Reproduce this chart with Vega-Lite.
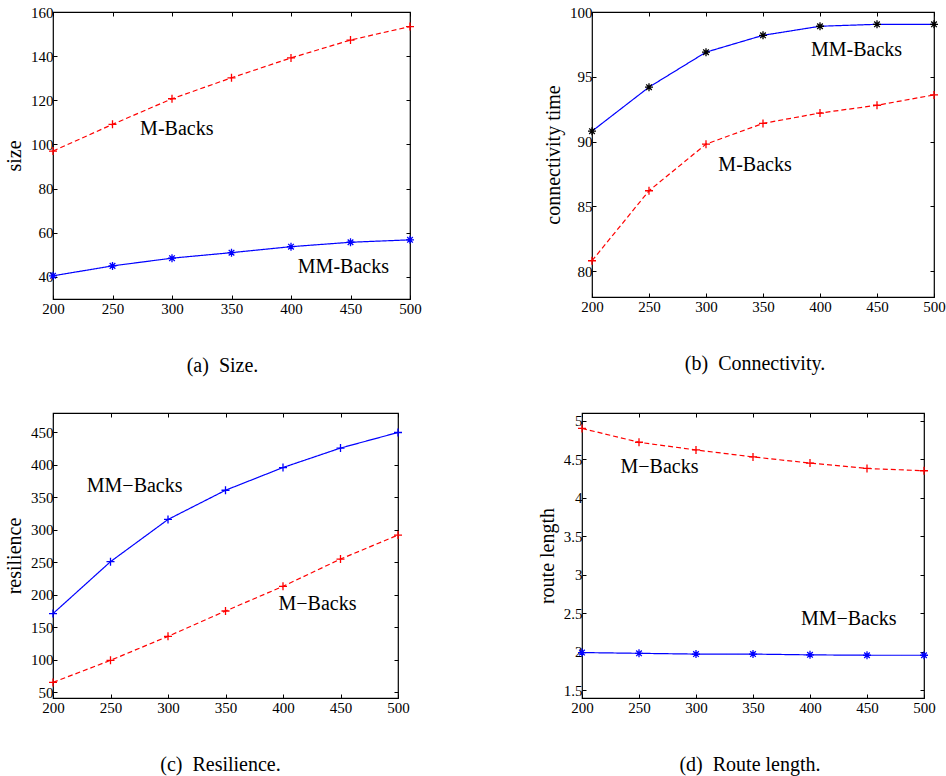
{
  "$schema": "https://vega.github.io/schema/vega-lite/v6.json",
  "background": "white",
  "padding": {"left": 3, "top": 4, "right": 3, "bottom": 3},
  "datasets": {
    "s": [
      {"panel": "a", "series": "M-Backs", "n": 200, "v": 97},
      {"panel": "a", "series": "M-Backs", "n": 250, "v": 109.1},
      {"panel": "a", "series": "M-Backs", "n": 300, "v": 120.7},
      {"panel": "a", "series": "M-Backs", "n": 350, "v": 130.2},
      {"panel": "a", "series": "M-Backs", "n": 400, "v": 139.2},
      {"panel": "a", "series": "M-Backs", "n": 450, "v": 147.3},
      {"panel": "a", "series": "M-Backs", "n": 500, "v": 153.4},
      {"panel": "a", "series": "MM-Backs", "n": 200, "v": 40.5},
      {"panel": "a", "series": "MM-Backs", "n": 250, "v": 45},
      {"panel": "a", "series": "MM-Backs", "n": 300, "v": 48.5},
      {"panel": "a", "series": "MM-Backs", "n": 350, "v": 51},
      {"panel": "a", "series": "MM-Backs", "n": 400, "v": 53.7},
      {"panel": "a", "series": "MM-Backs", "n": 450, "v": 55.7},
      {"panel": "a", "series": "MM-Backs", "n": 500, "v": 56.8},
      {"panel": "b", "series": "MM-Backs", "n": 200, "v": 90.8},
      {"panel": "b", "series": "MM-Backs", "n": 250, "v": 94.2},
      {"panel": "b", "series": "MM-Backs", "n": 300, "v": 96.9},
      {"panel": "b", "series": "MM-Backs", "n": 350, "v": 98.2},
      {"panel": "b", "series": "MM-Backs", "n": 400, "v": 98.9},
      {"panel": "b", "series": "MM-Backs", "n": 450, "v": 99.05},
      {"panel": "b", "series": "MM-Backs", "n": 500, "v": 99.05},
      {"panel": "b", "series": "M-Backs", "n": 200, "v": 80.8},
      {"panel": "b", "series": "M-Backs", "n": 250, "v": 86.2},
      {"panel": "b", "series": "M-Backs", "n": 300, "v": 89.8},
      {"panel": "b", "series": "M-Backs", "n": 350, "v": 91.4},
      {"panel": "b", "series": "M-Backs", "n": 400, "v": 92.2},
      {"panel": "b", "series": "M-Backs", "n": 450, "v": 92.8},
      {"panel": "b", "series": "M-Backs", "n": 500, "v": 93.6},
      {"panel": "c", "series": "MM-Backs", "n": 200, "v": 171},
      {"panel": "c", "series": "MM-Backs", "n": 250, "v": 251},
      {"panel": "c", "series": "MM-Backs", "n": 300, "v": 316},
      {"panel": "c", "series": "MM-Backs", "n": 350, "v": 361},
      {"panel": "c", "series": "MM-Backs", "n": 400, "v": 396},
      {"panel": "c", "series": "MM-Backs", "n": 450, "v": 426},
      {"panel": "c", "series": "MM-Backs", "n": 500, "v": 450},
      {"panel": "c", "series": "M-Backs", "n": 200, "v": 65},
      {"panel": "c", "series": "M-Backs", "n": 250, "v": 99},
      {"panel": "c", "series": "M-Backs", "n": 300, "v": 136},
      {"panel": "c", "series": "M-Backs", "n": 350, "v": 175},
      {"panel": "c", "series": "M-Backs", "n": 400, "v": 213},
      {"panel": "c", "series": "M-Backs", "n": 450, "v": 255},
      {"panel": "c", "series": "M-Backs", "n": 500, "v": 292},
      {"panel": "d", "series": "M-Backs", "n": 200, "v": 4.9},
      {"panel": "d", "series": "M-Backs", "n": 250, "v": 4.72},
      {"panel": "d", "series": "M-Backs", "n": 300, "v": 4.62},
      {"panel": "d", "series": "M-Backs", "n": 350, "v": 4.53},
      {"panel": "d", "series": "M-Backs", "n": 400, "v": 4.45},
      {"panel": "d", "series": "M-Backs", "n": 450, "v": 4.38},
      {"panel": "d", "series": "M-Backs", "n": 500, "v": 4.35},
      {"panel": "d", "series": "MM-Backs", "n": 200, "v": 1.99},
      {"panel": "d", "series": "MM-Backs", "n": 250, "v": 1.98},
      {"panel": "d", "series": "MM-Backs", "n": 300, "v": 1.97},
      {"panel": "d", "series": "MM-Backs", "n": 350, "v": 1.97},
      {"panel": "d", "series": "MM-Backs", "n": 400, "v": 1.96},
      {"panel": "d", "series": "MM-Backs", "n": 450, "v": 1.955},
      {"panel": "d", "series": "MM-Backs", "n": 500, "v": 1.955}
    ],
    "t": [
      {"panel": "a", "label": "M-Backs", "n": 304, "v": 107},
      {"panel": "a", "label": "MM-Backs", "n": 444, "v": 44.6},
      {"panel": "b", "label": "MM-Backs", "n": 432, "v": 97.1},
      {"panel": "b", "label": "M-Backs", "n": 343, "v": 88.2},
      {"panel": "c", "label": "MM−Backs", "n": 271, "v": 368},
      {"panel": "c", "label": "M−Backs", "n": 430, "v": 186.5},
      {"panel": "d", "label": "M−Backs", "n": 268, "v": 4.4},
      {"panel": "d", "label": "MM−Backs", "n": 434, "v": 2.42}
    ]
  },
  "spacing": 34,
  "vconcat": [
    {
      "bounds": "flush",
      "spacing": 182,
      "hconcat": [
        {
          "width": 357, "height": 287,
          "title": {"text": "(a)\u00a0 Size.", "dx": -9},
          "layer": [
            {
              "data": {"name": "s"}, "transform": [{"filter": "datum.panel == 'a'"}],
              "mark": {"type": "line", "strokeWidth": 1.2},
              "encoding": {
                "x": {"field": "n", "type": "quantitative", "scale": {"domain": [200, 500], "nice": false}, "axis": {"orient": "bottom", "values": [200, 250, 300, 350, 400, 450, 500], "format": "d", "title": null}},
                "y": {"field": "v", "type": "quantitative", "scale": {"domain": [30, 160], "nice": false, "zero": false}, "axis": {"orient": "left", "values": [40, 60, 80, 100, 120, 140, 160], "format": "d", "title": "size"}},
                "detail": {"field": "series"},
                "color": {"condition": {"test": "datum.series === 'M-Backs'", "value": "#ff0000"}, "value": "#0000ff"},
                "strokeDash": {"condition": {"test": "datum.series === 'M-Backs'", "value": [5, 3]}, "value": [1, 0]}
              }
            },
            {
              "data": {"name": "s"}, "transform": [{"filter": "datum.panel == 'a'"}],
              "mark": {"type": "point", "filled": false, "strokeWidth": 1.3, "size": 64, "opacity": 1},
              "encoding": {
                "x": {"field": "n", "type": "quantitative", "scale": {"domain": [200, 500], "nice": false}, "axis": {"orient": "top", "values": [200, 250, 300, 350, 400, 450, 500], "labels": false, "title": null}},
                "y": {"field": "v", "type": "quantitative", "scale": {"domain": [30, 160], "nice": false, "zero": false}, "axis": {"orient": "right", "values": [40, 60, 80, 100, 120, 140, 160], "labels": false, "title": null}},
                "color": {"condition": {"test": "datum.series === 'M-Backs'", "value": "#ff0000"}, "value": "#0000ff"},
                "shape": {"condition": {"test": "datum.series === 'M-Backs'", "value": "M-1,0H1M0,-1V1"}, "value": "M-1,0H1M0,-1V1M-0.7,-0.7L0.7,0.7M-0.7,0.7L0.7,-0.7"}
              }
            },
            {
              "data": {"name": "t"}, "transform": [{"filter": "datum.panel == 'a'"}],
              "mark": {"type": "text", "font": "Liberation Serif", "fontSize": 20, "color": "black"},
              "encoding": {
                "x": {"field": "n", "type": "quantitative", "axis": null},
                "y": {"field": "v", "type": "quantitative", "axis": null},
                "text": {"field": "label"}
              }
            }
          ],
          "resolve": {"axis": {"x": "independent", "y": "independent"}}
        },
        {
          "width": 342, "height": 285,
          "title": {"text": "(b)\u00a0 Connectivity.", "dx": -8},
          "layer": [
            {
              "data": {"name": "s"}, "transform": [{"filter": "datum.panel == 'b'"}],
              "mark": {"type": "line", "strokeWidth": 1.2},
              "encoding": {
                "x": {"field": "n", "type": "quantitative", "scale": {"domain": [200, 500], "nice": false}, "axis": {"orient": "bottom", "values": [200, 250, 300, 350, 400, 450, 500], "format": "d", "title": null}},
                "y": {"field": "v", "type": "quantitative", "scale": {"domain": [78, 100], "nice": false, "zero": false}, "axis": {"orient": "left", "values": [80, 85, 90, 95, 100], "format": "d", "title": "connectivity time"}},
                "detail": {"field": "series"},
                "color": {"condition": {"test": "datum.series === 'M-Backs'", "value": "#ff0000"}, "value": "#0000ff"},
                "strokeDash": {"condition": {"test": "datum.series === 'M-Backs'", "value": [5, 3]}, "value": [1, 0]}
              }
            },
            {
              "data": {"name": "s"}, "transform": [{"filter": "datum.panel == 'b'"}],
              "mark": {"type": "point", "filled": false, "strokeWidth": 1.3, "size": 64, "opacity": 1},
              "encoding": {
                "x": {"field": "n", "type": "quantitative", "scale": {"domain": [200, 500], "nice": false}, "axis": {"orient": "top", "values": [200, 250, 300, 350, 400, 450, 500], "labels": false, "title": null}},
                "y": {"field": "v", "type": "quantitative", "scale": {"domain": [78, 100], "nice": false, "zero": false}, "axis": {"orient": "right", "values": [80, 85, 90, 95, 100], "labels": false, "title": null}},
                "color": {"condition": {"test": "datum.series === 'M-Backs'", "value": "#ff0000"}, "value": "#000000"},
                "shape": {"condition": {"test": "datum.series === 'M-Backs'", "value": "M-1,0H1M0,-1V1"}, "value": "M-1,0H1M0,-1V1M-0.7,-0.7L0.7,0.7M-0.7,0.7L0.7,-0.7"}
              }
            },
            {
              "data": {"name": "t"}, "transform": [{"filter": "datum.panel == 'b'"}],
              "mark": {"type": "text", "font": "Liberation Serif", "fontSize": 20, "color": "black"},
              "encoding": {
                "x": {"field": "n", "type": "quantitative", "axis": null},
                "y": {"field": "v", "type": "quantitative", "axis": null},
                "text": {"field": "label"}
              }
            }
          ],
          "resolve": {"axis": {"x": "independent", "y": "independent"}}
        }
      ]
    },
    {
      "bounds": "flush",
      "spacing": 184,
      "hconcat": [
        {
          "width": 345, "height": 285,
          "title": {"text": "(c)\u00a0 Resilience.", "dx": -5},
          "layer": [
            {
              "data": {"name": "s"}, "transform": [{"filter": "datum.panel == 'c'"}],
              "mark": {"type": "line", "strokeWidth": 1.2},
              "encoding": {
                "x": {"field": "n", "type": "quantitative", "scale": {"domain": [200, 500], "nice": false}, "axis": {"orient": "bottom", "values": [200, 250, 300, 350, 400, 450, 500], "format": "d", "title": null}},
                "y": {"field": "v", "type": "quantitative", "scale": {"domain": [41, 480], "nice": false, "zero": false}, "axis": {"orient": "left", "values": [50, 100, 150, 200, 250, 300, 350, 400, 450], "format": "d", "title": "resilience"}},
                "detail": {"field": "series"},
                "color": {"condition": {"test": "datum.series === 'M-Backs'", "value": "#ff0000"}, "value": "#0000ff"},
                "strokeDash": {"condition": {"test": "datum.series === 'M-Backs'", "value": [5, 3]}, "value": [1, 0]}
              }
            },
            {
              "data": {"name": "s"}, "transform": [{"filter": "datum.panel == 'c'"}],
              "mark": {"type": "point", "filled": false, "strokeWidth": 1.3, "size": 64, "opacity": 1, "shape": "M-1,0H1M0,-1V1"},
              "encoding": {
                "x": {"field": "n", "type": "quantitative", "scale": {"domain": [200, 500], "nice": false}, "axis": {"orient": "top", "values": [200, 250, 300, 350, 400, 450, 500], "labels": false, "title": null}},
                "y": {"field": "v", "type": "quantitative", "scale": {"domain": [41, 480], "nice": false, "zero": false}, "axis": {"orient": "right", "values": [50, 100, 150, 200, 250, 300, 350, 400, 450], "labels": false, "title": null}},
                "color": {"condition": {"test": "datum.series === 'M-Backs'", "value": "#ff0000"}, "value": "#0000ff"}
              }
            },
            {
              "data": {"name": "t"}, "transform": [{"filter": "datum.panel == 'c'"}],
              "mark": {"type": "text", "font": "Liberation Serif", "fontSize": 20, "color": "black"},
              "encoding": {
                "x": {"field": "n", "type": "quantitative", "axis": null},
                "y": {"field": "v", "type": "quantitative", "axis": null},
                "text": {"field": "label"}
              }
            }
          ],
          "resolve": {"axis": {"x": "independent", "y": "independent"}}
        },
        {
          "width": 342, "height": 285,
          "title": {"text": "(d)\u00a0 Route length.", "dx": -3},
          "layer": [
            {
              "data": {"name": "s"}, "transform": [{"filter": "datum.panel == 'd'"}],
              "mark": {"type": "line", "strokeWidth": 1.2},
              "encoding": {
                "x": {"field": "n", "type": "quantitative", "scale": {"domain": [200, 500], "nice": false}, "axis": {"orient": "bottom", "values": [200, 250, 300, 350, 400, 450, 500], "format": "d", "title": null}},
                "y": {"field": "v", "type": "quantitative", "scale": {"domain": [1.4, 5.1], "nice": false, "zero": false}, "axis": {"orient": "left", "values": [1.5, 2, 2.5, 3, 3.5, 4, 4.5, 5], "format": "~g", "title": "route length"}},
                "detail": {"field": "series"},
                "color": {"condition": {"test": "datum.series === 'M-Backs'", "value": "#ff0000"}, "value": "#0000ff"},
                "strokeDash": {"condition": {"test": "datum.series === 'M-Backs'", "value": [5, 3]}, "value": [1, 0]}
              }
            },
            {
              "data": {"name": "s"}, "transform": [{"filter": "datum.panel == 'd'"}],
              "mark": {"type": "point", "filled": false, "strokeWidth": 1.3, "size": 64, "opacity": 1},
              "encoding": {
                "x": {"field": "n", "type": "quantitative", "scale": {"domain": [200, 500], "nice": false}, "axis": {"orient": "top", "values": [200, 250, 300, 350, 400, 450, 500], "labels": false, "title": null}},
                "y": {"field": "v", "type": "quantitative", "scale": {"domain": [1.4, 5.1], "nice": false, "zero": false}, "axis": {"orient": "right", "values": [1.5, 2, 2.5, 3, 3.5, 4, 4.5, 5], "labels": false, "title": null}},
                "color": {"condition": {"test": "datum.series === 'M-Backs'", "value": "#ff0000"}, "value": "#0000ff"},
                "shape": {"condition": {"test": "datum.series === 'M-Backs'", "value": "M-1,0H1M0,-1V1"}, "value": "M-1,0H1M0,-1V1M-0.7,-0.7L0.7,0.7M-0.7,0.7L0.7,-0.7"}
              }
            },
            {
              "data": {"name": "t"}, "transform": [{"filter": "datum.panel == 'd'"}],
              "mark": {"type": "text", "font": "Liberation Serif", "fontSize": 20, "color": "black"},
              "encoding": {
                "x": {"field": "n", "type": "quantitative", "axis": null},
                "y": {"field": "v", "type": "quantitative", "axis": null},
                "text": {"field": "label"}
              }
            }
          ],
          "resolve": {"axis": {"x": "independent", "y": "independent"}}
        }
      ]
    }
  ],
  "config": {
    "font": "Liberation Serif",
    "view": {"stroke": "black", "strokeWidth": 1.2},
    "axis": {
      "domain": false, "grid": false, "ticks": true, "tickSize": -4, "tickColor": "black", "tickWidth": 1,
      "labelFont": "Liberation Serif", "labelFontSize": 15, "labelColor": "black", "labelPadding": 4,
      "labelFlush": false, "labelOverlap": false,
      "titleFont": "Liberation Serif", "titleFontSize": 20, "titleFontWeight": "normal", "titleColor": "black", "titlePadding": 6
    },
    "axisX": {"labelPadding": 6},
    "title": {"orient": "bottom", "font": "Liberation Serif", "fontSize": 20, "fontWeight": "normal", "color": "black", "offset": 40, "anchor": "middle", "frame": "group"}
  }
}
